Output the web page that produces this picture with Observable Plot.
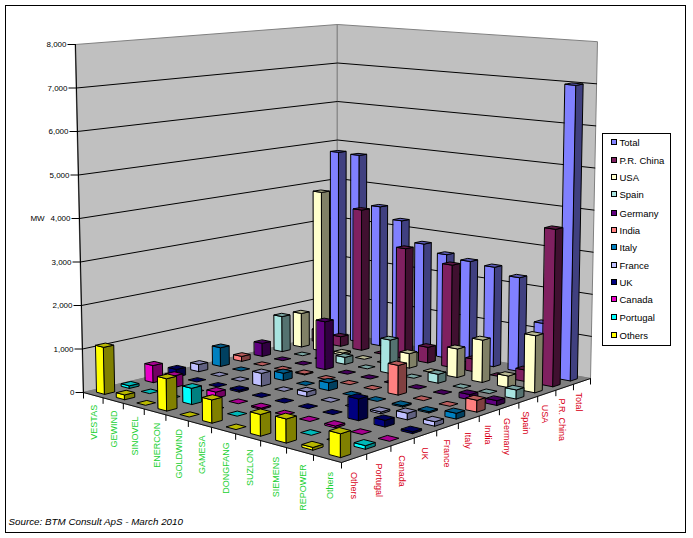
<!DOCTYPE html>
<html><head><meta charset="utf-8">
<style>html,body{margin:0;padding:0;background:#fff}svg{display:block}</style>
<script src="https://cdn.jsdelivr.net/npm/d3@7"></script>
<script src="https://cdn.jsdelivr.net/npm/@observablehq/plot@0.6"></script>
</head><body><script>
const manufacturers = ["VESTAS","GEWIND","SINOVEL","ENERCON","GOLDWIND","GAMESA","DONGFANG","SUZLON","SIEMENS","REPOWER","Others"];
const countries = ["Others","Portugal","Canada","UK","France","Italy","India","Germany","Spain","USA","P.R. China","Total"];
const valOthers   = [1080,110,0,730,0,520,0,480,530,60,520];
const valPortugal = [60,0,0,370,0,0,0,0,0,0,80];
const valCanada   = [400,270,0,140,0,30,0,0,40,0,0];
const valUK       = [180,0,0,40,0,0,0,0,490,150,40];
const valFrance   = [170,0,0,300,0,110,0,0,40,150,100];
const valItaly    = [450,0,0,170,0,180,0,0,30,30,130];
const valIndia    = [120,0,0,20,0,0,0,690,0,0,270];
const valGermany  = [320,0,0,1150,0,0,0,0,0,120,110];
const valSpain    = [870,0,0,170,0,800,0,210,0,0,210];
const valUSA      = [840,3950,50,0,0,350,0,680,1000,270,1330];
const valChina    = [300,240,3500,0,2700,380,2475,300,0,270,3700];
const valTotal    = [4760,4740,3500,3220,2720,2540,2460,2410,2250,1250,7000];
const rows = [valOthers,valPortugal,valCanada,valUK,valFrance,valItaly,valIndia,valGermany,valSpain,valUSA,valChina,valTotal];
const colors = ["#ffff00","#00ffff","#e800c8","#000080","#c0c0ff","#0080c0","#ff8080","#600080","#a8e4e0","#ffffcc","#802060","#8080ff"];
const legendOrder = [11,10,9,8,7,6,5,4,3,2,1,0];
const yTicks = [0,1000,2000,3000,4000,5000,6000,7000,8000];

// floor corners of the box and the perspective that ties them together
const A=[83,392],B=[341,462],C=[590,378],D=[337,332];
const den=(B[0]-C[0])*(D[1]-C[1])-(D[0]-C[0])*(B[1]-C[1]);
const sx=A[0]-B[0]+C[0]-D[0], sy=A[1]-B[1]+C[1]-D[1];
const g=(sx*(D[1]-C[1])-(D[0]-C[0])*sy)/den, h=((B[0]-C[0])*sy-sx*(B[1]-C[1]))/den;
const ha=B[0]-A[0]+g*B[0], hb=D[0]-A[0]+h*D[0], hd=B[1]-A[1]+g*B[1], he=D[1]-A[1]+h*D[1];
const perUnit={A:43.5,B:46,C:42.1,D:38.5};
function proj(u,v,z=0){
  const w=g*u+h*v+1;
  const x0=(ha*u+hb*v+A[0])/w, y0=(hd*u+he*v+A[1])/w;
  const s=(perUnit.A*(1-u)*(1-v)+perUnit.B*u*(1-v)+perUnit.C*u*v+perUnit.D*(1-u)*v)/1000;
  const lean=(x0-337)*0.0315*(x0<337?1:0.875)*z/8000;
  return [x0+lean,y0-z*s];
}
function shade(c,k){const r=d3.rgb(c);return d3.rgb(r.r*k,r.g*k,r.b*k).formatHex();}

const faces=[];let fid=0;
function addFace(pts,fill){const id=fid++;pts.forEach(p=>faces.push({id,x:p[0],y:p[1],fill}));}
const f=0.4,nI=manufacturers.length,nJ=countries.length;
for(let j=nJ-1;j>=0;j--)for(let i=0;i<nI;i++){
  const val=rows[j][i];
  const du=f/nI,dv=f/nJ;
  const u0=(i+.5)/nI-du/2,u1=u0+du,v0=(j+.5)/nJ-dv/2,v1=v0+dv;
  if(val>0){
    addFace([proj(u0,v0,0),proj(u1,v0,0),proj(u1,v0,val),proj(u0,v0,val)],colors[j]);
    addFace([proj(u1,v0,0),proj(u1,v1,0),proj(u1,v1,val),proj(u1,v0,val)],shade(colors[j],.5));
  }
  addFace([proj(u0,v0,val),proj(u1,v0,val),proj(u1,v1,val),proj(u0,v1,val)],shade(colors[j],.72));
}
const poly=(pts)=>pts.map(p=>({x:p[0],y:p[1]}));
const leftWall=poly([proj(0,0,0),proj(0,1,0),proj(0,1,8000),proj(0,0,8000)]);
const rightWall=poly([proj(0,1,0),proj(1,1,0),proj(1,1,8000),proj(0,1,8000)]);
const floor=poly([proj(0,0),proj(1,0),proj(1,1),proj(0,1)]);
const frontEdge=poly([proj(0,0),proj(1,0),proj(1,1)]);
const grid=yTicks.slice(1,-1).flatMap(t=>[proj(0,0,t),proj(0,1,t),proj(1,1,t)].map(p=>({t,x:p[0],y:p[1]})));
const yTickRows=yTicks.map(t=>{const p=proj(0,0,t);return {t,x:p[0],y:p[1]};});
const uTicks=d3.range(nI+1).map(i=>{const p=proj(i/nI,0);return {x:p[0],y:p[1]};});
const vTicks=d3.range(1,nJ+1).map(j=>{const p=proj(1,j/nJ);return {x:p[0],y:p[1]};});
const uLabels=manufacturers.map((m,i)=>{const u=(i+.5)/nI,p=proj(u,0);return {m,x:p[0]+1+2*u,y:p[1]+9.5+4*u};});
const vLabels=countries.map((m,j)=>{const v=(j+.5)/nJ,p=proj(1,v);return {m,x:p[0]-3*v,y:p[1]+14-3*v};});
const legY=[142,160,177,194,213,230,247,265,282,299,317,335];
const legend=legendOrder.map((j,k)=>({name:countries[j],color:colors[j],y:legY[k]}));
const font="Liberation Sans, Arial, sans-serif";

const chart=Plot.plot({
  width:693,height:538,margin:0,
  x:{domain:[0,693],range:[0,693],axis:null},
  y:{domain:[0,538],range:[0,538],axis:null},
  color:{type:"identity"},
  style:{background:"#fff",fontFamily:font},
  marks:[
    Plot.rect([{}],{x1:()=>5.5,x2:()=>685.5,y1:()=>5.5,y2:()=>532.5,fill:"#fff",stroke:"#000",strokeWidth:1}),
    Plot.line(leftWall,{x:"x",y:"y",fill:"#c0c0c0",stroke:"#808080",curve:"linear-closed",strokeWidth:1}),
    Plot.line(rightWall,{x:"x",y:"y",fill:"#c0c0c0",stroke:"#808080",curve:"linear-closed",strokeWidth:1}),
    Plot.line(grid,{x:"x",y:"y",z:"t",stroke:"#000",strokeWidth:1}),
    Plot.line(floor,{x:"x",y:"y",fill:"#808080",stroke:"#808080",curve:"linear-closed",strokeWidth:1}),
    Plot.line(frontEdge,{x:"x",y:"y",stroke:"#111",strokeWidth:1}),
    Plot.line(poly([proj(0,0,0),proj(0,0,8000)]),{x:"x",y:"y",stroke:"#000",strokeWidth:1}),
    Plot.link(yTickRows,{x1:d=>d.x-8,x2:"x",y1:"y",y2:"y",stroke:"#000",strokeWidth:1}),
    Plot.link(uTicks,{x1:"x",x2:"x",y1:"y",y2:d=>d.y+6,stroke:"#000",strokeWidth:1}),
    Plot.link(vTicks,{x1:"x",x2:"x",y1:"y",y2:d=>d.y+6,stroke:"#000",strokeWidth:1}),
    Plot.line(faces,{x:"x",y:"y",z:"id",fill:"fill",stroke:"#000",strokeWidth:1,curve:"linear-closed"}),
    Plot.text(yTickRows,{x:d=>d.x-9,y:"y",text:d=>d3.format(",")(d.t),textAnchor:"end",fontSize:8,fill:"#000"}),
    Plot.text(["MW"],{x:()=>37,y:()=>218,text:d=>d,fontSize:8,fill:"#000"}),
    Plot.text(uLabels,{x:"x",y:"y",text:"m",rotate:-90,textAnchor:"end",fontSize:9,fill:"#18d030"}),
    Plot.text(vLabels,{x:"x",y:"y",text:"m",rotate:90,textAnchor:"start",fontSize:9,fill:"#d80018"}),
    Plot.rect([{}],{x1:()=>602.5,x2:()=>670.5,y1:()=>133.5,y2:()=>345.5,fill:"#fff",stroke:"#000",strokeWidth:1}),
    Plot.rect(legend,{x1:()=>611.5,x2:()=>616.5,y1:d=>d.y-2.5,y2:d=>d.y+2.5,fill:"color",stroke:"#000",strokeWidth:1}),
    Plot.text(legend,{x:()=>619,y:"y",text:"name",textAnchor:"start",fontSize:9.5,fill:"#000"}),
    Plot.text(["Source: BTM Consult ApS - March 2010"],{x:()=>8,y:()=>521,text:d=>d,textAnchor:"start",fontSize:9.8,fontStyle:"italic",fill:"#000"})
  ]
});
document.body.appendChild(chart);
</script></body></html>
